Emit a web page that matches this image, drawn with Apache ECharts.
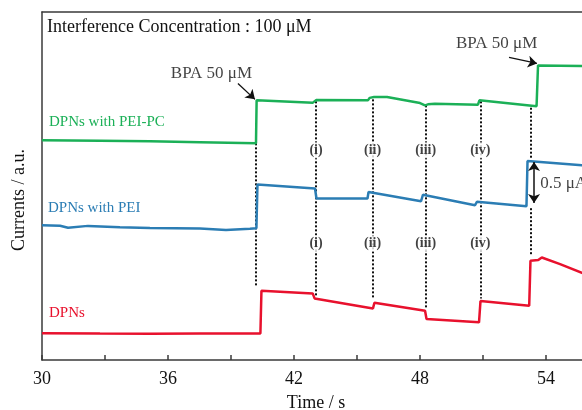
<!DOCTYPE html>
<html>
<head>
<meta charset="utf-8">
<script src="https://cdn.jsdelivr.net/npm/echarts@6/dist/echarts.min.js"></script>
<style>
  html, body { margin: 0; padding: 0; background: #fff; }
  #main { width: 582px; height: 410px; }
</style>
</head>
<body>
<div id="main"></div>
<script>
// amperometric traces, time in s, current in uA (offset per trace)
var pcTime = [30, 32.76, 35.14, 37.52, 40.19, 40.22, 42.90, 43.05, 45.52, 45.60, 45.69, 45.81, 46.43, 48.00, 48.24, 48.38, 48.71, 50.76, 50.83, 53.55, 53.62, 55.71, 57];
var pcCurr = [2.683, 2.677, 2.671, 2.659, 2.646, 3.171, 3.143, 3.174, 3.171, 3.201, 3.183, 3.211, 3.211, 3.138, 3.110, 3.122, 3.130, 3.118, 3.171, 3.098, 3.598, 3.591, 3.589];

var peiTime = [30, 30.86, 31.24, 32.19, 33.71, 35.14, 37.52, 38.76, 39.90, 40.21, 40.26, 43.00, 43.07, 45.50, 45.55, 48.05, 48.14, 50.62, 50.71, 53.07, 53.12, 55.71, 57];
var peiCurr = [1.646, 1.640, 1.616, 1.638, 1.622, 1.613, 1.606, 1.589, 1.604, 1.610, 2.143, 2.094, 1.972, 1.972, 2.052, 1.939, 2.018, 1.890, 1.933, 1.878, 2.430, 2.378, 2.354];

var dpnTime = [30, 32.76, 35.14, 37.52, 40.40, 40.45, 42.89, 42.98, 45.76, 45.83, 48.24, 48.31, 50.81, 50.88, 53.20, 53.26, 53.63, 53.80, 54.67, 55.71, 57];
var dpnCurr = [0.326, 0.323, 0.321, 0.323, 0.323, 0.845, 0.813, 0.752, 0.630, 0.699, 0.601, 0.500, 0.460, 0.720, 0.662, 1.211, 1.220, 1.252, 1.171, 1.065, 0.963];

var names = ['DPNs with PEI-PC', 'DPNs with PEI', 'DPNs'];
var colors = ['#1bb057', '#2b7db4', '#e8112d'];

// dotted injection markers
var segTime = [40.19, 43.05, 45.74, 48.27, 50.87, 53.27, 53.27];
var segFrom = [2.646, 3.159, 3.183, 3.110, 3.159, 3.081, 1.854];
var segTo = [0.890, 0.772, 0.752, 0.630, 0.752, 2.463, 1.280];

var romanText = ['(i)', '(ii)', '(iii)', '(iv)'];
var romanTime = [43.05, 45.74, 48.27, 50.87];
var romanUpper = 2.561;
var romanLower = 1.423;

var xTicks = [30, 36, 42, 48, 54];
var xMin = 30;
var xMax = 55.714;

function pairs(xs, ys) {
  return xs.map(function (x, i) { return [x, ys[i]]; });
}

var font = 'Liberation Serif';
var axisColor = '#3a3a3a';
var myChart = echarts.init(document.getElementById('main'));

var dotData = segTime.map(function (t, i) {
  return { coords: [[t, segFrom[i]], [t, segTo[i]]] };
});

var romanData = [];
romanTime.forEach(function (t, i) {
  romanData.push({ name: romanText[i], value: [t, romanUpper] });
  romanData.push({ name: romanText[i], value: [t, romanLower] });
});

var option = {
  animation: false,
  backgroundColor: '#fff',
  grid: {
    left: 42,
    top: 12,
    right: 0,
    bottom: 50
  },
  xAxis: [
    {
      type: 'value',
      min: xMin,
      max: xMax,
      interval: 3,
      axisLine: { lineStyle: { color: axisColor, width: 1.5 } },
      axisTick: { inside: true, length: 5, lineStyle: { color: axisColor, width: 1.5 } },
      axisLabel: {
        margin: 10,
        fontFamily: font,
        fontSize: 18,
        color: '#111',
        showMaxLabel: false,
        formatter: function (v) { return xTicks.indexOf(v) >= 0 ? String(v) : ''; }
      },
      splitLine: { show: false }
    },
    {
      // top frame line only
      type: 'value',
      position: 'top',
      min: xMin,
      max: xMax,
      axisLine: { show: true, lineStyle: { color: axisColor, width: 1.5 } },
      axisTick: { show: false },
      axisLabel: { show: false },
      splitLine: { show: false }
    }
  ],
  yAxis: {
    type: 'value',
    min: 0,
    max: 4.25,
    axisLine: { show: true, lineStyle: { color: axisColor, width: 1.5 } },
    axisTick: { show: false },
    axisLabel: { show: false },
    splitLine: { show: false }
  },
  graphic: [
    { type: 'text', x: 47, y: 27, style: { text: 'Interference Concentration : 100 \u03bcM', font: '18px "' + font + '"', fill: '#111', verticalAlign: 'middle' } },
    { type: 'text', x: 49, y: 122, style: { text: names[0], font: '15px "' + font + '"', fill: colors[0], verticalAlign: 'middle' } },
    { type: 'text', x: 48, y: 208, style: { text: names[1], font: '15px "' + font + '"', fill: colors[1], verticalAlign: 'middle' } },
    { type: 'text', x: 49, y: 313, style: { text: names[2], font: '15px "' + font + '"', fill: colors[2], verticalAlign: 'middle' } },
    { type: 'text', x: 19, y: 200, rotation: Math.PI / 2, style: { text: 'Currents / a.u.', font: '18px "' + font + '"', fill: '#111', align: 'center', verticalAlign: 'middle' } },
    { type: 'text', x: 316, y: 403, style: { text: 'Time / s', font: '18px "' + font + '"', fill: '#111', align: 'center', verticalAlign: 'middle' } }
  ],
  series: [
    {
      type: 'lines',
      coordinateSystem: 'cartesian2d',
      z: 1,
      silent: true,
      lineStyle: { color: '#111', width: 2, type: [2, 2], opacity: 1 },
      data: dotData
    },
    {
      name: names[0], type: 'line', showSymbol: false, z: 3,
      lineStyle: { color: colors[0], width: 2.5 },
      data: pairs(pcTime, pcCurr)
    },
    {
      name: names[1], type: 'line', showSymbol: false, z: 3,
      lineStyle: { color: colors[1], width: 2.5 },
      data: pairs(peiTime, peiCurr)
    },
    {
      name: names[2], type: 'line', showSymbol: false, z: 3,
      lineStyle: { color: colors[2], width: 2.5 },
      data: pairs(dpnTime, dpnCurr)
    },
    {
      type: 'scatter', z: 4, symbolSize: 1, silent: true,
      itemStyle: { color: 'rgba(0,0,0,0)' },
      label: {
        show: true, position: 'inside', formatter: '{b}',
        fontFamily: font, fontSize: 14, fontWeight: 'bold', color: '#111',
        backgroundColor: '#fff', padding: [1, 1]
      },
      data: romanData
    },
    {
      type: 'lines', coordinateSystem: 'cartesian2d', z: 5, silent: true,
      symbol: ['none', 'arrow'], symbolSize: 9,
      lineStyle: { color: '#111', width: 1.3, opacity: 1 },
      data: [
        { coords: [[39.33, 3.378], [40.14, 3.183]] },
        { coords: [[52.24, 3.695], [53.57, 3.622]] }
      ]
    },
    {
      type: 'lines', coordinateSystem: 'cartesian2d', z: 5, silent: true,
      symbol: ['arrow', 'arrow'], symbolSize: 9,
      lineStyle: { color: '#111', width: 1.5, opacity: 1 },
      data: [{ coords: [[53.43, 2.418], [53.43, 1.918]] }]
    },
    {
      type: 'scatter', z: 6, symbolSize: 1, silent: true,
      itemStyle: { color: 'rgba(0,0,0,0)' },
      label: { show: true, position: 'inside', formatter: '{b}', fontFamily: font, fontSize: 17, color: '#111' },
      data: [
        { name: 'BPA 50 \u03bcM', value: [38.07, 3.504] },
        { name: 'BPA 50 \u03bcM', value: [51.65, 3.862] }
      ]
    },
    {
      type: 'scatter', z: 6, symbolSize: 1, silent: true,
      itemStyle: { color: 'rgba(0,0,0,0)' },
      label: { show: true, position: 'right', distance: 0, formatter: '{b}', fontFamily: font, fontSize: 17, color: '#111' },
      data: [{ name: '0.5 \u03bcA', value: [53.70, 2.154] }]
    }
  ]
};

option && myChart.setOption(option);
window.addEventListener('resize', function () {
  if (myChart) {
    myChart.resize();
  }
});
</script>
</body>
</html>
